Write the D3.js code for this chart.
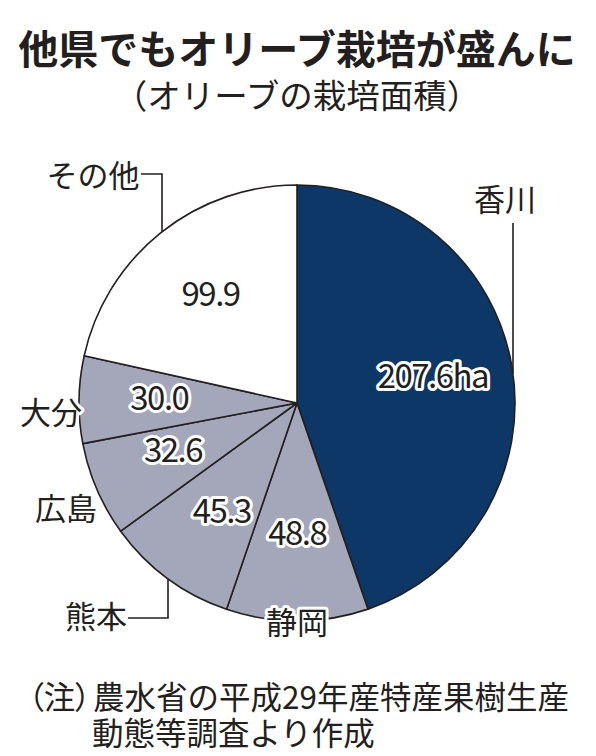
<!DOCTYPE html>
<html>
<head>
<meta charset="utf-8">
<script src="https://cdn.jsdelivr.net/npm/d3@7"></script>
<style>
  html, body { margin: 0; padding: 0; background: #fff; }
  svg text { font-family: "Noto Sans CJK JP", "Noto Sans", sans-serif; }
</style>
</head>
<body>
<div></div>
<script>
// data
const prefs = ["香川", "静岡", "熊本", "広島", "大分", "その他"];
const areas = [207.6, 48.8, 45.3, 32.6, 30.0, 99.9];
const valueLabels = ["207.6ha", "48.8", "45.3", "32.6", "30.0", "99.9"];
const title = "他県でもオリーブ栽培が盛んに";
const subtitle = "（オリーブの栽培面積）";
const noteHead = "（注）";
const notes = ["農水省の平成29年産特産果樹生産", "動態等調査より作成"];

function olivePie() {
    const width = 596, height = 756;
    const cx = 297, cy = 403, r = 218;

    const svg = d3.select("div")
        .append("svg")
        .attr("width", width)
        .attr("height", height);

    // titles
    svg.append("text")
        .attr("x", width / 2 - 1).attr("y", 64)
        .attr("text-anchor", "middle")
        .attr("font-size", 40).attr("font-weight", 700)
        .attr("fill", "#231f20")
        .text(title);
    svg.append("text")
        .attr("x", 297).attr("y", 108)
        .attr("text-anchor", "middle")
        .attr("font-size", 33.5)
        .attr("fill", "#231f20")
        .text(subtitle);

    const color = d3.scaleOrdinal()
        .domain(prefs)
        .range(["#0c3767", "#a3a7b9", "#a3a7b9", "#a3a7b9", "#a3a7b9", "#ffffff"]);

    const pie = d3.pie().sort(null).value((d, i) => areas[i]);
    const arcs = pie(prefs);
    const arc = d3.arc().innerRadius(0).outerRadius(r);

    const g = svg.append("g").attr("transform", "translate(" + cx + "," + cy + ")");

    g.selectAll("path.slice")
        .data(arcs)
        .join("path")
        .attr("class", "slice")
        .attr("d", arc)
        .attr("fill", d => color(d.data))
        .attr("stroke", "#231f20")
        .attr("stroke-width", 1.6)
        .attr("stroke-linejoin", "round");

    // value labels, placed inside slices (radius fraction + nudge)
    const inside = [
        { k: 0.66, dx: -6, dy: -3 },
        { k: 0.62, dx: 0, dy: -5 },
        { k: 0.52, dx: -8, dy: 17 },
        { k: 0.57, dx: -10, dy: -2 },
        { k: 0.65, dx: 4, dy: -3 },
        { k: 0.56, dx: -10, dy: -14 }
    ];
    const valuePos = (d, i) => {
        const a = (d.startAngle + d.endAngle) / 2;
        const rr = r * inside[i].k;
        return [Math.sin(a) * rr + inside[i].dx, -Math.cos(a) * rr + inside[i].dy];
    };

    g.selectAll("text.val")
        .data(arcs)
        .join("text")
        .attr("class", "val")
        .attr("x", (d, i) => valuePos(d, i)[0])
        .attr("y", (d, i) => valuePos(d, i)[1])
        .attr("dy", "0.36em")
        .attr("text-anchor", "middle")
        .attr("font-size", 33)
        .attr("letter-spacing", -1.5)
        .attr("fill", "#231f20")
        .attr("stroke", (d, i) => i === 5 ? "none" : "#fff")
        .attr("stroke-width", 6)
        .attr("stroke-linejoin", "round")
        .attr("paint-order", "stroke")
        .text((d, i) => valueLabels[i]);

    // name labels outside the pie
    const names = {
        "香川": { x: 505, y: 199 },
        "静岡": { x: 297, y: 622, halo: true },
        "熊本": { x: 96, y: 616 },
        "広島": { x: 66, y: 508 },
        "大分": { x: 51, y: 412, halo: true },
        "その他": { x: 93, y: 175 }
    };
    svg.selectAll("text.name")
        .data(prefs)
        .join("text")
        .attr("class", "name")
        .attr("x", d => names[d].x)
        .attr("y", d => names[d].y)
        .attr("dy", "0.38em")
        .attr("text-anchor", "middle")
        .attr("font-size", 31)
        .attr("fill", "#231f20")
        .attr("stroke", d => names[d].halo ? "#fff" : "none")
        .attr("stroke-width", 6)
        .attr("stroke-linejoin", "round")
        .attr("paint-order", "stroke")
        .text(d => d);

    // leader lines: vertical drop meets the circle
    const hitY = (x, sign) => cy + sign * Math.sqrt(r * r - (x - cx) * (x - cx));
    const leaders = [
        [[141, 174], [162, 174], [162, hitY(162, -1)]],
        [[128, 618], [168, 618], [168, hitY(168, 1)]],
        [[513, 223], [513, hitY(513, -1)]]
    ];
    svg.selectAll("path.leader")
        .data(leaders)
        .join("path")
        .attr("class", "leader")
        .attr("d", d3.line())
        .attr("fill", "none")
        .attr("stroke", "#231f20")
        .attr("stroke-width", 1.6);

    // footnote
    const note1 = svg.append("text")
        .attr("x", 28).attr("y", 709)
        .attr("font-size", 31.5)
        .attr("fill", "#231f20");
    note1.append("tspan")
        .style("font-feature-settings", "'palt'")
        .text(noteHead);
    note1.append("tspan")
        .attr("dx", 2)
        .text(notes[0]);
    svg.append("text")
        .attr("x", 92).attr("y", 745)
        .attr("font-size", 31.5)
        .attr("fill", "#231f20")
        .text(notes[1]);
}

olivePie();
</script>
</body>
</html>
